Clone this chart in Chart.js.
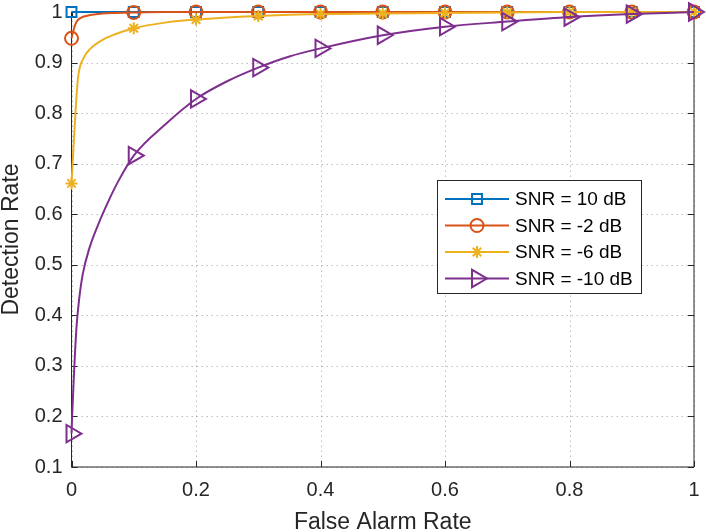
<!DOCTYPE html>
<html>
<head>
<meta charset="utf-8">
<style>
  html, body { margin: 0; padding: 0; background: #fff; }
</style>
<script src="https://cdn.jsdelivr.net/npm/chart.js@4.4.1/dist/chart.umd.min.js"></script>
</head>
<body>
<canvas id="roc" width="706" height="532"></canvas>
<script>
// Series labels and colours (MATLAB default order)
const seriesNames = ['SNR = 10 dB', 'SNR = -2 dB', 'SNR = -6 dB', 'SNR = -10 dB'];
const seriesColors = ['#0072BD', '#D95319', '#EDB120', '#7E2F8E'];

// False alarm rate (x) and detection rate (y)
const faBlue = [0, 0.1, 0.2, 0.3, 0.4, 0.5, 0.6, 0.7, 0.8, 0.9, 1];
const pdBlue = [1, 1, 1, 1, 1, 1, 1, 1, 1, 1, 1];

const faRed = [0, 0.003, 0.006, 0.01, 0.02, 0.03, 0.05, 0.07, 0.1, 0.15, 0.2, 0.3, 0.4, 0.5, 0.6, 0.7, 0.8, 0.9, 1];
const pdRed = [0.948, 0.963, 0.975, 0.984, 0.991, 0.994, 0.997, 0.998, 0.999, 1, 1, 1, 1, 1, 1, 1, 1, 1, 1];

const faYellow = [0, 0.01, 0.02, 0.03, 0.05, 0.07, 0.1, 0.15, 0.2, 0.3, 0.4, 0.5, 0.6, 0.7, 0.8, 0.9, 1];
const pdYellow = [0.661, 0.864, 0.910, 0.927, 0.945, 0.956, 0.968, 0.979, 0.985, 0.992, 0.996, 0.997, 0.998, 0.999, 1, 1, 1];

const faPurple = [0, 0.001, 0.004, 0.008, 0.012, 0.018, 0.029, 0.043, 0.059, 0.075, 0.1, 0.15, 0.2, 0.25, 0.3, 0.35, 0.4, 0.5, 0.6, 0.7, 0.8, 0.9, 1];
const pdPurple = [0.166, 0.200, 0.285, 0.376, 0.429, 0.481, 0.534, 0.580, 0.625, 0.665, 0.716, 0.777, 0.828, 0.863, 0.890, 0.912, 0.928, 0.954, 0.971, 0.981, 0.990, 0.996, 1];

// Axis settings
const xTitle = 'False Alarm Rate';
const yTitle = 'Detection Rate';
const xMin = 0, xMax = 1, xStep = 0.2;
const yMin = 0.1, yMax = 1, yStep = 0.1;

const fontFamily = '"Liberation Sans", Arial, Helvetica, sans-serif';
const axisColor = '#262626';

// marker look per series
const markers = [
  { style: 'rect', radius: 7, rotation: 0 },
  { style: 'circle', radius: 6.5, rotation: 0 },
  { style: 'star', radius: 6, rotation: 0 },
  { style: 'triangle', radius: 10, rotation: 90 }
];

function toPoints(xs, ys) {
  return xs.map((x, i) => ({ x: x, y: ys[i] }));
}

// markers only every 0.1 on x
function isMarker(x) {
  return Math.abs(x * 10 - Math.round(x * 10)) < 1e-9;
}

const allX = [faBlue, faRed, faYellow, faPurple];
const allY = [pdBlue, pdRed, pdYellow, pdPurple];

const datasets = seriesNames.map((name, i) => ({
  label: name,
  data: toPoints(allX[i], allY[i]),
  borderColor: seriesColors[i],
  backgroundColor: 'rgba(0,0,0,0)',
  borderWidth: 2,
  cubicInterpolationMode: 'monotone',
  pointStyle: markers[i].style,
  pointRotation: markers[i].rotation,
  pointBorderWidth: 2,
  pointBorderColor: seriesColors[i],
  pointBackgroundColor: 'rgba(0,0,0,0)',
  pointRadius: ctx => (ctx.raw && isMarker(ctx.raw.x)) ? markers[i].radius : 0,
  pointHoverRadius: 0,
  clip: false,
  // later series drawn on top, like MATLAB
  order: seriesNames.length - 1 - i
}));

// dotted grid, then the box with inward ticks
const axesBox = {
  id: 'axesBox',
  beforeDatasetsDraw(chart) {
    const { ctx, chartArea: a, scales } = chart;
    const tl = 6;
    const xs = scales.x.ticks.map(t => Math.round(scales.x.getPixelForValue(t.value)) + 0.5);
    const ys = scales.y.ticks.map(t => Math.round(scales.y.getPixelForValue(t.value)) + 0.5);
    ctx.save();
    ctx.strokeStyle = 'rgba(38,38,38,0.3)';
    ctx.lineWidth = 1;
    ctx.setLineDash([1.5, 3.5]);
    ctx.beginPath();
    xs.forEach(px => { ctx.moveTo(px, a.bottom); ctx.lineTo(px, a.top); });
    ys.forEach(py => { ctx.moveTo(a.left, py); ctx.lineTo(a.right, py); });
    ctx.stroke();
    ctx.setLineDash([]);
    ctx.strokeStyle = axisColor;
    ctx.beginPath();
    ctx.rect(a.left, a.top, a.right - a.left, a.bottom - a.top);
    xs.forEach(px => {
      ctx.moveTo(px, a.bottom); ctx.lineTo(px, a.bottom - tl);
      ctx.moveTo(px, a.top); ctx.lineTo(px, a.top + tl);
    });
    ys.forEach(py => {
      ctx.moveTo(a.left, py); ctx.lineTo(a.left + tl, py);
      ctx.moveTo(a.right, py); ctx.lineTo(a.right - tl, py);
    });
    ctx.stroke();
    ctx.restore();
  }
};

// legend box inside the plot, in series order
const innerLegend = {
  id: 'innerLegend',
  afterDraw(chart) {
    const ctx = chart.ctx;
    const box = { x: 437.5, y: 180.5, w: 204, h: 113 };
    const rowY = [199, 225.5, 252, 278.5];
    ctx.save();
    ctx.fillStyle = '#fff';
    ctx.strokeStyle = axisColor;
    ctx.lineWidth = 1;
    ctx.fillRect(box.x, box.y, box.w, box.h);
    ctx.strokeRect(box.x, box.y, box.w, box.h);
    ctx.font = '19px ' + fontFamily;
    ctx.textBaseline = 'middle';
    ctx.textAlign = 'left';
    seriesNames.forEach((name, i) => {
      const y = rowY[i];
      ctx.strokeStyle = seriesColors[i];
      ctx.lineWidth = 2;
      ctx.beginPath();
      ctx.moveTo(445, y);
      ctx.lineTo(509, y);
      ctx.stroke();
      ctx.fillStyle = 'rgba(0,0,0,0)';
      Chart.helpers.drawPoint(ctx, {
        pointStyle: markers[i].style,
        radius: markers[i].radius,
        rotation: markers[i].rotation,
        borderWidth: 2
      }, 477, y);
      ctx.fillStyle = '#000';
      ctx.fillText(name, 515, y + 1);
    });
    ctx.restore();
  }
};

const fmt = v => String(+v.toFixed(1));

new Chart(document.getElementById('roc'), {
  type: 'line',
  data: { datasets: datasets },
  options: {
    responsive: false,
    animation: false,
    events: [],
    layout: { padding: { top: 9, right: 11, left: 0, bottom: 0 } },
    plugins: {
      legend: { display: false },
      tooltip: { enabled: false }
    },
    scales: {
      x: {
        type: 'linear',
        min: xMin,
        max: xMax,
        afterFit: s => { s.height = 65; s.paddingLeft = 0; s.paddingRight = 0; },
        ticks: {
          stepSize: xStep,
          callback: fmt,
          color: axisColor,
          padding: 11,
          maxRotation: 0,
          font: { family: fontFamily, size: 20 }
        },
        grid: { display: false, drawTicks: false },
        border: { display: false },
        title: {
          display: true,
          text: xTitle,
          color: axisColor,
          padding: 0,
          font: { family: fontFamily, size: 23, lineHeight: 0.85 }
        }
      },
      y: {
        type: 'linear',
        min: yMin,
        max: yMax,
        afterFit: s => { s.width = 71.5; s.paddingTop = 0; s.paddingBottom = 0; },
        ticks: {
          stepSize: yStep,
          callback: fmt,
          color: axisColor,
          padding: 9,
          font: { family: fontFamily, size: 20 }
        },
        grid: { display: false, drawTicks: false },
        border: { display: false },
        title: {
          display: true,
          text: yTitle,
          color: axisColor,
          padding: 0,
          font: { family: fontFamily, size: 23, lineHeight: 1 }
        }
      }
    }
  },
  plugins: [axesBox, innerLegend]
});
</script>
</body>
</html>
